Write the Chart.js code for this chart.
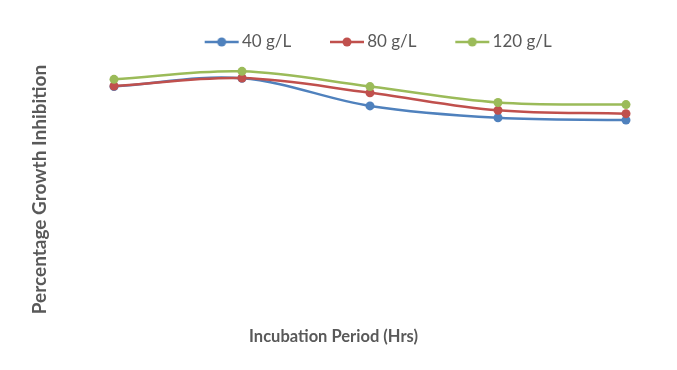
<!DOCTYPE html>
<html><head><meta charset="utf-8">
<script src="https://cdn.jsdelivr.net/npm/chart.js@4/dist/chart.umd.min.js"></script>
<style>html,body{margin:0;padding:0;background:#fff;}#wrap{width:677px;height:370px;}</style>
</head><body><div id="wrap"><canvas id="c" width="677" height="370"></canvas></div>
<script>
// Incubation points (axis labels are not shown in the original)
const categories = ['1', '2', '3', '4', '5'];
const seriesNames = ['40 g/L', '80 g/L', '120 g/L'];
const s40  = [89.9, 93.1, 82.4, 77.8, 76.9];
const s80  = [90.1, 93.2, 87.5, 80.7, 79.4];
const s120 = [92.7, 95.8, 89.9, 83.7, 82.9];
const xTitle = 'Incubation Period (Hrs)';
const yTitle = 'Percentage Growth Inhibition';

const colors = ['#4F81BD', '#C0504D', '#9BBB59'];
const textColor = '#595959';
const FONT = "Lato, 'Open Sans', sans-serif";

function legendIcon(color) {
  const c = document.createElement('canvas');
  c.width = 48; c.height = 12;
  const g = c.getContext('2d');
  g.strokeStyle = color; g.lineWidth = 2.5;
  g.beginPath(); g.moveTo(13, 6); g.lineTo(47, 6); g.stroke();
  g.fillStyle = color;
  g.beginPath(); g.arc(30, 6, 4.5, 0, Math.PI * 2); g.fill();
  return c;
}
const icons = colors.map(legendIcon);

const allSeries = [s40, s80, s120];
const datasets = allSeries.map((s, k) => ({
  label: seriesNames[k],
  data: s.map((v, i) => ({x: i, y: v})),
  borderColor: colors[k],
  backgroundColor: colors[k],
  pointBackgroundColor: colors[k],
  pointBorderColor: colors[k],
  borderWidth: 2.5,
  pointRadius: 4.5,
  pointBorderWidth: 0,
  tension: 0.35,
  order: 2 - k,
  clip: false
}));

const legendShift = {
  id: 'legendShift',
  afterLayout(chart) {
    const l = chart.legend; const dx = 49.5;
    l.left += dx; l.right += dx;
  }
};

new Chart(document.getElementById('c'), {
  type: 'line',
  data: {datasets},
  plugins: [legendShift],
  options: {
    responsive: false, animation: false, devicePixelRatio: 1,
    layout: {padding: {left: 24.6, right: 51, top: 1.5, bottom: 19.1}},
    plugins: {
      tooltip: {enabled: false},
      legend: {
        position: 'top',
        labels: {
          usePointStyle: true, pointStyleWidth: 35.5,
          font: {family: FONT, size: 17}, color: textColor, padding: 32,
          sort: (a, b) => a.datasetIndex - b.datasetIndex,
          generateLabels: (chart) => {
            const items = Chart.defaults.plugins.legend.labels.generateLabels(chart);
            items.forEach(it => { it.pointStyle = icons[it.datasetIndex]; });
            return items;
          }
        }
      }
    },
    scales: {
      x: {
        type: 'linear', min: -0.5703, max: 4,
        ticks: {display: false, callback: (v) => categories[v] || ''},
        grid: {display: false}, border: {display: false},
        title: {display: true, text: xTitle, color: textColor, font: {family: FONT, size: 16.5, weight: 'bold'}, padding: {top: 4, bottom: 4}},
        afterFit: (s) => { s.height = 32.4; }
      },
      y: {
        min: 0, max: 100,
        ticks: {display: false},
        grid: {display: false}, border: {display: false},
        title: {display: true, text: yTitle, color: textColor, font: {family: FONT, size: 19, weight: 'bold'}, padding: {top: 4, bottom: 4}},
        afterFit: (s) => { s.width = 16.4; }
      }
    }
  }
});
</script></body></html>
